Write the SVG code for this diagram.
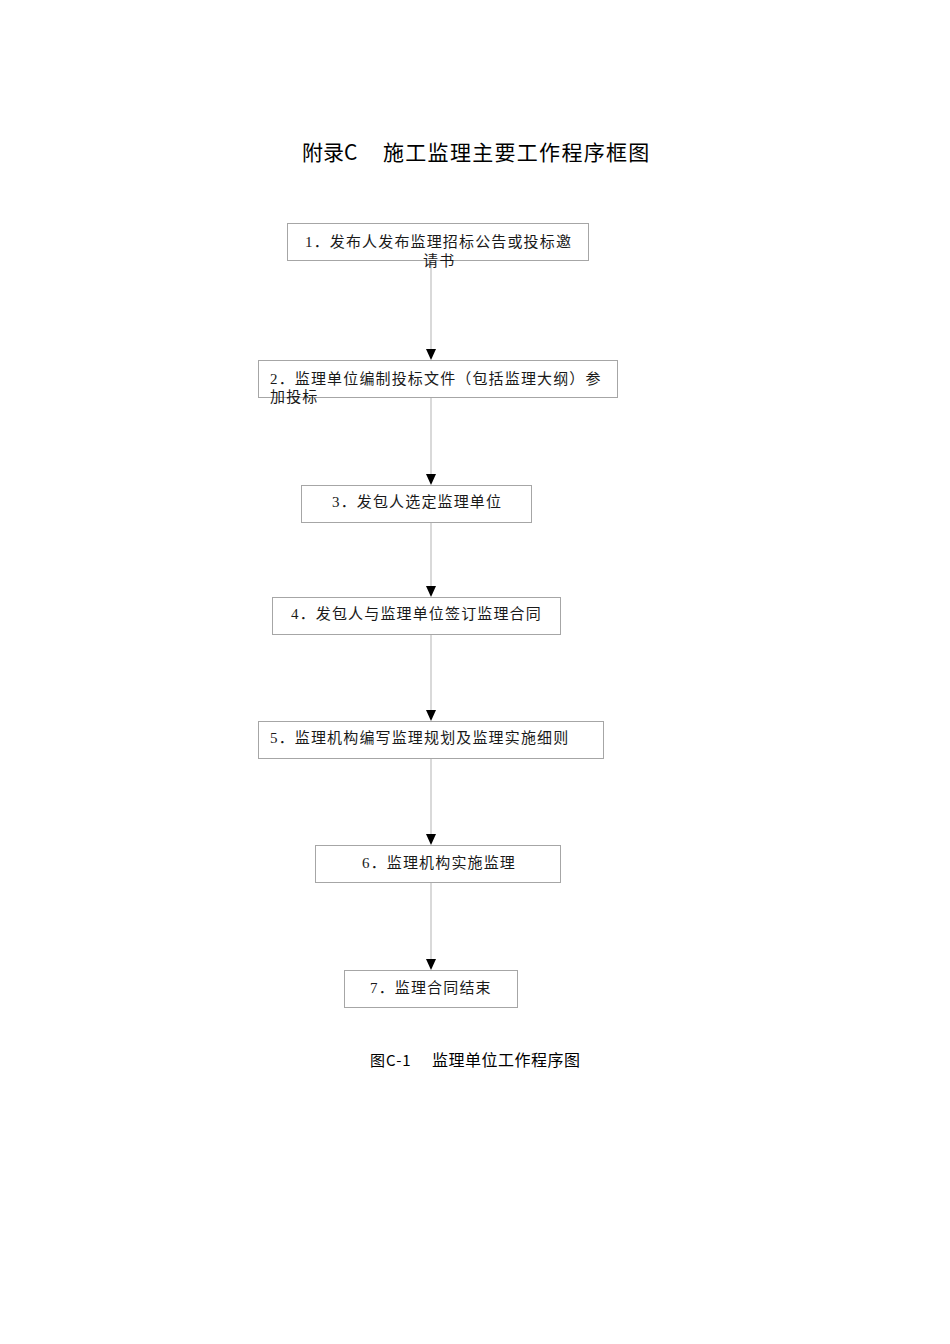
<svg xmlns="http://www.w3.org/2000/svg" width="950" height="1344" viewBox="0 0 950 1344">
<style>
.box{fill:#fff;stroke:#a6a6a6;stroke-width:1}
.t{font-family:"Liberation Serif","Noto Sans CJK SC",serif;font-size:15px;fill:#1a1a1a;letter-spacing:1.15px}
.h{font-family:"Noto Sans CJK SC","Liberation Sans",sans-serif;fill:#000}
.c{stroke:#b3b3b3;stroke-width:1;fill:none}
</style>
<rect width="950" height="1344" fill="#fff"/>
<g id="title">
<text class="h" x="302" y="160" font-size="21">附录C</text>
<text class="h" x="383" y="160" font-size="21" letter-spacing="1.3">施工监理主要工作程序框图</text>
</g>
<g id="connectors">
<line class="c" x1="431" y1="260" x2="431" y2="349"/>
<path d="M426,349 L436,349 L431,360 Z" fill="#000"/>
<line class="c" x1="431" y1="397" x2="431" y2="474"/>
<path d="M426,474 L436,474 L431,485 Z" fill="#000"/>
<line class="c" x1="431" y1="522" x2="431" y2="586"/>
<path d="M426,586 L436,586 L431,597 Z" fill="#000"/>
<line class="c" x1="431" y1="634" x2="431" y2="710"/>
<path d="M426,710 L436,710 L431,721 Z" fill="#000"/>
<line class="c" x1="431" y1="758" x2="431" y2="834"/>
<path d="M426,834 L436,834 L431,845 Z" fill="#000"/>
<line class="c" x1="431" y1="883" x2="431" y2="959"/>
<path d="M426,959 L436,959 L431,970 Z" fill="#000"/>
</g>
<g id="n1">
<rect class="box" x="287.5" y="223.5" width="301" height="37"/>
<text class="t" x="305" y="247">1．发布人发布监理招标公告或投标邀</text>
<text class="t" x="423" y="266">请书</text>
</g>
<g id="n2">
<rect class="box" x="258.5" y="360.5" width="359" height="37"/>
<text class="t" x="270" y="384">2．监理单位编制投标文件（包括监理大纲）参</text>
<text class="t" x="270" y="402">加投标</text>
</g>
<g id="n3">
<rect class="box" x="301.5" y="485.5" width="230" height="37"/>
<text class="t" x="332" y="507">3．发包人选定监理单位</text>
</g>
<g id="n4">
<rect class="box" x="272.5" y="597.5" width="288" height="37"/>
<text class="t" x="291" y="619">4．发包人与监理单位签订监理合同</text>
</g>
<g id="n5">
<rect class="box" x="258.5" y="721.5" width="345" height="37"/>
<text class="t" x="270" y="743">5．监理机构编写监理规划及监理实施细则</text>
</g>
<g id="n6">
<rect class="box" x="315.5" y="845.5" width="245" height="37"/>
<text class="t" x="362" y="868">6．监理机构实施监理</text>
</g>
<g id="n7">
<rect class="box" x="344.5" y="970.5" width="173" height="37"/>
<text class="t" x="370" y="993">7．监理合同结束</text>
</g>
<g id="caption">
<text class="h" x="370" y="1066" font-size="15" letter-spacing="1">图C-1</text>
<text class="h" x="432" y="1066" font-size="16" letter-spacing="0.5">监理单位工作程序图</text>
</g>
</svg>
